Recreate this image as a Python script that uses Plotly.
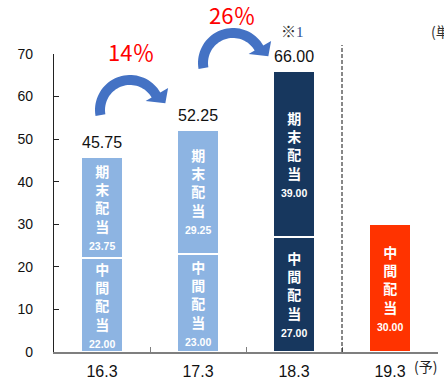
import numpy as np
import plotly.graph_objects as go

# ---- data ----
categories = ["16.3", "17.3", "18.3", "19.3"]
interim = [22.00, 23.00, 27.00, 30.00]          # 中間配当
year_end = [23.75, 29.25, 39.00, None]          # 期末配当
totals = [45.75, 52.25, 66.00, None]
interim_colors = ["#8DB4E2", "#8DB4E2", "#17375E", "#FF3300"]
yearend_colors = ["#8DB4E2", "#8DB4E2", "#17375E", "#FF3300"]
growth_labels = ["14％", "26％"]

W, H = 444, 388
ML, MR, MT, MB = 54, 6, 54, 36
PW, PH = W - ML - MR, H - MT - MB

def px2x(px):
    return (px - ML) / PW

def py2y(py):
    return (H - MB - py) / PH

fig = go.Figure()
fig.add_trace(go.Bar(x=categories, y=interim, name="中間配当",
                     marker=dict(color=interim_colors, line=dict(color="white", width=2)),
                     width=0.43, hoverinfo="skip"))
fig.add_trace(go.Bar(x=categories, y=year_end, name="期末配当",
                     marker=dict(color=yearend_colors, line=dict(color="white", width=2)),
                     width=0.43, hoverinfo="skip"))

ann = []
FONT = "Liberation Sans, Arial, sans-serif"
CJK = "Noto Sans CJK JP"

def vtext(label, val):
    chars = "<br>".join(label)
    return f"<b>{chars}<br><span style='font-size:10.5px;font-family:Liberation Sans'>{val:.2f}</span></b>"

for i, c in enumerate(categories):
    ann.append(dict(x=i, y=interim[i] / 2, xref="x", yref="y", text=vtext("中間配当", interim[i]),
                    showarrow=False, xanchor="center", yanchor="middle",
                    font=dict(family=CJK, size=14, color="white"), yshift=1))
    if year_end[i] is not None:
        ann.append(dict(x=i, y=interim[i] + year_end[i] / 2, xref="x", yref="y",
                        text=vtext("期末配当", year_end[i]), showarrow=False,
                        xanchor="center", yanchor="middle",
                        font=dict(family=CJK, size=14, color="white"), yshift=1))
    if totals[i] is not None:
        ann.append(dict(x=i, y=totals[i], xref="x", yref="y", text=f"{totals[i]:.2f}",
                        showarrow=False, xanchor="center", yanchor="bottom", yshift=4,
                        font=dict(family=FONT, size=16, color="#111")))

def pann(px, py, text, size, color, xanchor="center", family=CJK):
    return dict(x=px2x(px), y=py2y(py), xref="paper", yref="paper", text=text,
                showarrow=False, xanchor=xanchor, yanchor="middle",
                font=dict(family=family, size=size, color=color))

ann.append(pann(131, 51, growth_labels[0], 22, "#FF0000"))
ann.append(pann(232, 14, growth_labels[1], 22, "#FF0000"))
ann.append(pann(292, 31, "※<span style='font-family:Liberation Serif;color:#2F4F8F'>1</span>", 15, "#333"))
ann.append(pann(429, 31, "(単位：円)", 14, "#333", xanchor="left"))
ann.append(pann(425, 366, "(予)", 14, "#222"))

# curved arrows
def arrow_path(cx, cy, ro=35, ri=25, a0=190, a1=30):
    pts = []
    for a in np.linspace(a0, a1, 40):
        r = np.radians(a)
        pts.append((cx + ro * np.cos(r), cy - ro * np.sin(r)))
    for (R, a) in [(44, a1), (36, 11), (18, a1)]:
        r = np.radians(a)
        pts.append((cx + R * np.cos(r), cy - R * np.sin(r)))
    for a in np.linspace(a1, a0, 40):
        r = np.radians(a)
        pts.append((cx + ri * np.cos(r), cy - ri * np.sin(r)))
    d = "M " + " L ".join(f"{px2x(x):.5f},{py2y(y):.5f}" for x, y in pts) + " Z"
    return d

shapes = []
for (cx, cy) in [(130, 110), (233, 63)]:
    shapes.append(dict(type="path", xref="paper", yref="paper", path=arrow_path(cx, cy),
                       fillcolor="#4472C4", line=dict(width=0)))
shapes.append(dict(type="line", xref="x", yref="paper", x0=2.5, x1=2.5, y0=0, y1=py2y(45),
                   line=dict(color="#111", width=1, dash="4px,2px")))

fig.update_layout(
    barmode="stack", width=W, height=H, showlegend=False,
    margin=dict(l=ML, r=MR, t=MT, b=MB),
    paper_bgcolor="white", plot_bgcolor="white",
    annotations=ann, shapes=shapes,
    xaxis=dict(type="category", showline=True, linecolor="#7F7F7F", linewidth=1.5,
               ticks="inside", tickson="boundaries", ticklen=5, tickcolor="#7F7F7F",
               tickfont=dict(family=FONT, size=16, color="#111"), range=[-0.5, 3.5],
               showgrid=False, ticklabelstandoff=4),
    yaxis=dict(range=[0, 70], dtick=10, showline=True, linecolor="#222", linewidth=1.2,
               ticks="inside", ticklen=5, tickcolor="#222", showgrid=False, zeroline=False,
               tickfont=dict(family=FONT, size=14, color="#111"), ticklabelstandoff=17),
)

fig.write_html("out.html", config={"displayModeBar": False},
               post_script="document.body.style.margin='0';document.body.style.overflow='hidden';")
